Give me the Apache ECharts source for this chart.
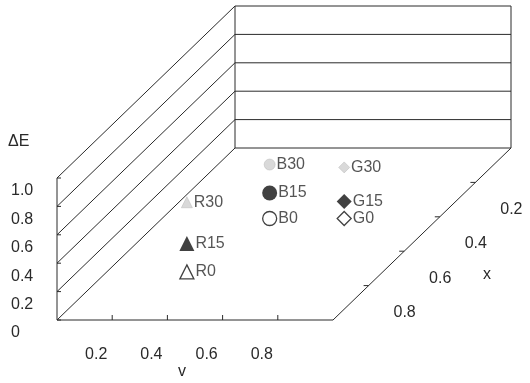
<!DOCTYPE html>
<html>
<head>
<meta charset="utf-8">
<script src="https://cdn.jsdelivr.net/npm/echarts@6/dist/echarts.min.js"></script>
<style>
html, body { margin: 0; padding: 0; background: #fff; }
#chart { width: 530px; height: 383px; }
</style>
</head>
<body>
<div id="chart"></div>
<script>
var zTicks = [0, 0.2, 0.4, 0.6, 0.8, 1.0];
var zLabels = ['0', '0.2', '0.4', '0.6', '0.8', '1.0'];
var vTicks = [0.2, 0.4, 0.6, 0.8];
var vLabels = ['0.2', '0.4', '0.6', '0.8'];
var xTicks = [0.2, 0.4, 0.6, 0.8];
var xLabels = ['0.2', '0.4', '0.6', '0.8'];

var names = ['R0', 'R15', 'R30', 'B0', 'B15', 'B30', 'G0', 'G15', 'G30'];
var vValues = [0.29, 0.29, 0.29, 0.39, 0.39, 0.39, 0.66, 0.66, 0.66];
var xValues = [0.72, 0.72, 0.72, 0.41, 0.41, 0.41, 0.41, 0.41, 0.41];
var dEValues = [0, 0.20, 0.49, 0, 0.18, 0.38, 0, 0.12, 0.36];

// oblique depth offset in axis units (front face is 276 x 142 px)
var DX = 178 / 276;
var DY = 172 / 142;
var FAMILY = '"Liberation Sans", Arial, sans-serif';
var FONT = '16px ' + FAMILY;
var INK = '#2a2a2a';

function proj(v, x, z) {
    return [v + DX * (1 - x), z + DY * (1 - x)];
}

// box frame, one row per segment: [x1, y1, x2, y2]
var segs = [];
function seg(a, b) { segs.push([a[0], a[1], b[0], b[1]]); }
zTicks.forEach(function (z) {
    seg(proj(0, 0, z), proj(1, 0, z));   // back wall
    seg(proj(0, 1, z), proj(0, 0, z));   // side wall
});
seg(proj(0, 0, 0), proj(0, 0, 1));
seg(proj(1, 0, 0), proj(1, 0, 1));
seg(proj(0, 1, 0), proj(0, 1, 1));
seg(proj(0, 1, 0), proj(1, 1, 0));
seg(proj(1, 1, 0), proj(1, 0, 0));

function tickSeries(points, labels, tick, off, align) {
    return {
        type: 'custom',
        silent: true,
        clip: false,
        data: points,
        renderItem: function (params, api) {
            var p = api.coord([api.value(0), api.value(1)]);
            return {
                type: 'group',
                children: [
                    {
                        type: 'line',
                        shape: { x1: p[0], y1: p[1], x2: p[0] + tick[0], y2: p[1] + tick[1] },
                        style: { stroke: INK, lineWidth: 1 }
                    },
                    {
                        type: 'text',
                        x: p[0] + off[0],
                        y: p[1] + off[1],
                        style: {
                            text: labels[params.dataIndex], fill: INK, font: FONT,
                            align: align, verticalAlign: 'middle'
                        }
                    }
                ]
            };
        }
    };
}

function markerStyle(name) {
    var level = name.slice(1);
    var shape = { R: 'triangle', B: 'circle', G: 'diamond' }[name[0]];
    if (level === '0') {
        return { symbol: shape, symbolSize: 14, itemStyle: { color: '#fff', borderColor: '#111', borderWidth: 1.3 } };
    }
    if (level === '15') {
        return { symbol: shape, symbolSize: 15, itemStyle: { color: '#111' } };
    }
    return { symbol: shape, symbolSize: 11, itemStyle: { color: '#cfcfcf', borderColor: '#b5b5b5', borderWidth: 0.6 } };
}

var points = names.map(function (n, i) {
    var s = markerStyle(n);
    return {
        name: n,
        value: proj(vValues[i], xValues[i], dEValues[i]),
        symbol: s.symbol,
        symbolSize: s.symbolSize,
        itemStyle: s.itemStyle
    };
});

// 276 px per unit across, 142 px per unit up; origin at (57, 320)
var X_MAX = 1.7;
var Y_MAX = 2.25;

var chart = echarts.init(document.getElementById('chart'));
chart.setOption({
    animation: false,
    backgroundColor: '#fff',
    grid: { left: 57, top: 320 - 142 * Y_MAX, width: 276 * X_MAX, height: 142 * Y_MAX },
    xAxis: { type: 'value', min: 0, max: X_MAX, show: false },
    yAxis: { type: 'value', min: 0, max: Y_MAX, show: false },
    graphic: [
        { type: 'text', left: 8, top: 134, style: { text: 'ΔE', fill: INK, font: FONT } },
        { type: 'text', left: 178, top: 364, style: { text: 'v', fill: INK, font: FONT } },
        { type: 'text', left: 483, top: 267, style: { text: 'x', fill: INK, font: FONT } }
    ],
    series: [
        {
            type: 'custom',
            silent: true,
            clip: false,
            data: segs,
            renderItem: function (params, api) {
                var a = api.coord([api.value(0), api.value(1)]);
                var b = api.coord([api.value(2), api.value(3)]);
                return {
                    type: 'line',
                    shape: { x1: a[0], y1: a[1], x2: b[0], y2: b[1] },
                    style: { stroke: INK, lineWidth: 1 }
                };
            }
        },
        tickSeries(zTicks.map(function (z) { return proj(0, 1, z); }), zLabels, [4, 0], [-46, 13], 'left'),
        tickSeries(vTicks.map(function (v) { return proj(v, 1, 0); }), vLabels, [0, -5], [-16, 35], 'center'),
        tickSeries(xTicks.map(function (x) { return proj(1, x, 0); }), xLabels, [-5, 0], [36, 27], 'center'),
        {
            type: 'scatter',
            clip: false,
            data: points,
            label: {
                show: true,
                position: 'right',
                distance: 1,
                formatter: '{b}',
                color: INK,
                fontSize: 16,
                fontFamily: FAMILY
            }
        }
    ]
});
</script>
</body>
</html>
